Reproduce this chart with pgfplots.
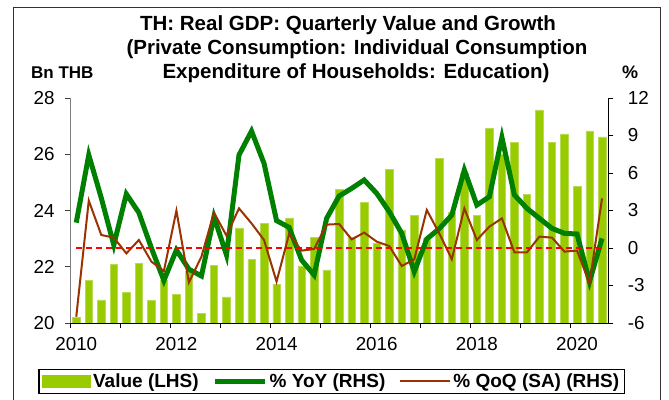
\documentclass[border=0pt]{standalone}
\usepackage{pgfplots}
\pgfplotsset{compat=1.18}
\usepackage{pgfplotstable}
\usepackage{fontspec}
\setmainfont{Liberation Sans}
\definecolor{barfill}{HTML}{99CC00}
\definecolor{baredge}{HTML}{B8DB55}
\definecolor{yoygreen}{HTML}{008000}
\definecolor{qoqbrown}{HTML}{993300}
\pgfplotsset{
  linelegend/.style={legend image code/.code={\draw[##1] (0bp,0bp) -- (50bp,0bp);}},
  barlegend/.style={legend image code/.code={\fill[barfill] (0bp,-5.5bp) rectangle (48bp,5.5bp);}},
}
\pgfplotstableread{
i val yoy qoq
0 20.20 2.03 -5.5
1 21.52 7.44 3.79
2 20.82 4.00 1.04
3 22.09 0.24 0.83
4 21.08 4.32 -0.43
5 22.12 2.83 0.64
6 20.81 0.00 -1.09
7 21.52 -2.60 -1.84
8 21.03 -0.16 2.99
9 21.83 -1.70 -2.75
10 20.34 -2.24 -0.69
11 22.06 2.50 2.83
12 20.93 -0.56 0.99
13 23.38 7.44 3.17
14 22.25 9.35 1.97
15 23.55 6.77 0.64
16 21.38 2.19 -2.69
17 23.74 1.65 1.12
18 22.03 -0.96 -0.21
19 23.04 -2.16 -0.08
20 21.89 2.37 1.87
21 24.76 4.16 1.92
22 23.05 4.77 0.69
23 24.30 5.44 1.23
24 22.84 4.37 0.51
25 25.47 2.91 0.16
26 23.31 1.17 -1.44
27 23.83 -1.89 -0.91
28 23.00 0.72 3.04
29 25.86 1.55 1.17
30 23.92 2.64 -0.90
31 25.33 6.24 3.17
32 23.83 3.44 0.64
33 26.93 4.10 1.71
34 26.00 8.85 2.37
35 26.42 4.24 -0.35
36 24.58 3.17 -0.35
37 27.58 2.37 0.91
38 26.43 1.57 0.83
39 26.72 1.17 -0.29
40 24.85 1.12 -0.21
41 26.83 -2.69 -2.83
42 26.62 0.77 3.97
}\gdpdata
\begin{document}
\begin{tikzpicture}
\path[use as bounding box] (0bp,0bp) rectangle (669bp,400bp);
\draw[black!80, line width=0.8bp] (13bp,-2bp) -- (13bp,393bp) -- (660bp,393bp) -- (660bp,-2bp);
\node[anchor=base, font=\bfseries\fontsize{20.5bp}{24bp}\selectfont] at (348bp,369bp) {TH: Real GDP: Quarterly Value and Growth};
\node[anchor=base, font=\bfseries\fontsize{20.5bp}{24bp}\selectfont] at (357bp,345bp) {(Private Consumption: Individual Consumption};
\node[anchor=base, font=\bfseries\fontsize{20.5bp}{24bp}\selectfont] at (356bp,321bp) {Expenditure of Households: Education)};
\node[anchor=base west, inner sep=0pt, font=\bfseries\fontsize{17bp}{20bp}\selectfont] at (31bp,321bp) {Bn THB};
\node[anchor=base west, inner sep=0pt, font=\bfseries\fontsize{18bp}{20bp}\selectfont] at (622bp,321bp) {\%};
\begin{axis}[
  at={(70bp,77bp)}, anchor=south west,
  scale only axis, width=538.3bp, height=225bp,
  xmin=-0.5, xmax=42.5, ymin=20, ymax=28,
  axis x line*=bottom, axis y line*=left,
  x axis line style={draw=black, line width=0.8bp},
  y axis line style={draw=gray, line width=1bp},
  tick align=outside,
  xtick={0,8,16,24,32,40},
  xticklabels={2010,2012,2014,2016,2018,2020},
  xtick style={draw=none},
  xticklabel style={yshift=-6bp},
  minor xtick={-0.5,3.5,...,39.5},
  minor tick length=5bp, major tick length=5bp,
  minor x tick style={draw=black, line width=0.8bp},
  ytick={20,22,24,26,28},
  yticklabels={20,22,24,26,28},
  yticklabel style={xshift=-7bp},
  ytick style={draw=black!75, line width=0.8bp},
  tick label style={font=\fontsize{18.8bp}{22bp}\selectfont},
  ybar, bar width=0.6,
]
\addplot[fill=barfill, draw=baredge, line width=0.5bp] table[x=i,y=val]{\gdpdata};
\end{axis}
\begin{axis}[
  at={(70bp,77bp)}, anchor=south west,
  scale only axis, width=538.3bp, height=225bp,
  xmin=-0.5, xmax=42.5, ymin=-6, ymax=12,
  axis x line=none, axis y line*=right,
  y axis line style={draw=black, line width=0.8bp},
  tick align=outside, major tick length=5bp,
  ytick={-6,-3,0,3,6,9,12},
  yticklabels={-6,-3,0,3,6,9,12},
  ytick style={draw=black, line width=0.8bp},
  yticklabel style={anchor=west, xshift=11bp},
  tick label style={font=\fontsize{18.8bp}{22bp}\selectfont},
  legend columns=3,
  legend cell align=left,
  legend style={at={(0.4858,-0.26)}, anchor=center, draw=black, line width=1.2bp,
    font=\bfseries\fontsize{19bp}{22bp}\selectfont,
    /tikz/every even column/.append style={column sep=12bp}},
]
\addlegendimage{barlegend}
\addlegendentry{Value (LHS)}
\addplot[yoygreen, line width=5bp, linelegend] table[x=i,y=yoy]{\gdpdata};
\addlegendentry{\% YoY (RHS)}
\addplot[qoqbrown, line width=2bp, linelegend] table[x=i,y=qoq]{\gdpdata};
\addlegendentry{\% QoQ (SA) (RHS)}
\addplot[red, line width=2bp, dash pattern=on 6bp off 4bp, forget plot] coordinates {(0,0) (42,0)};
\end{axis}
\end{tikzpicture}
\end{document}
